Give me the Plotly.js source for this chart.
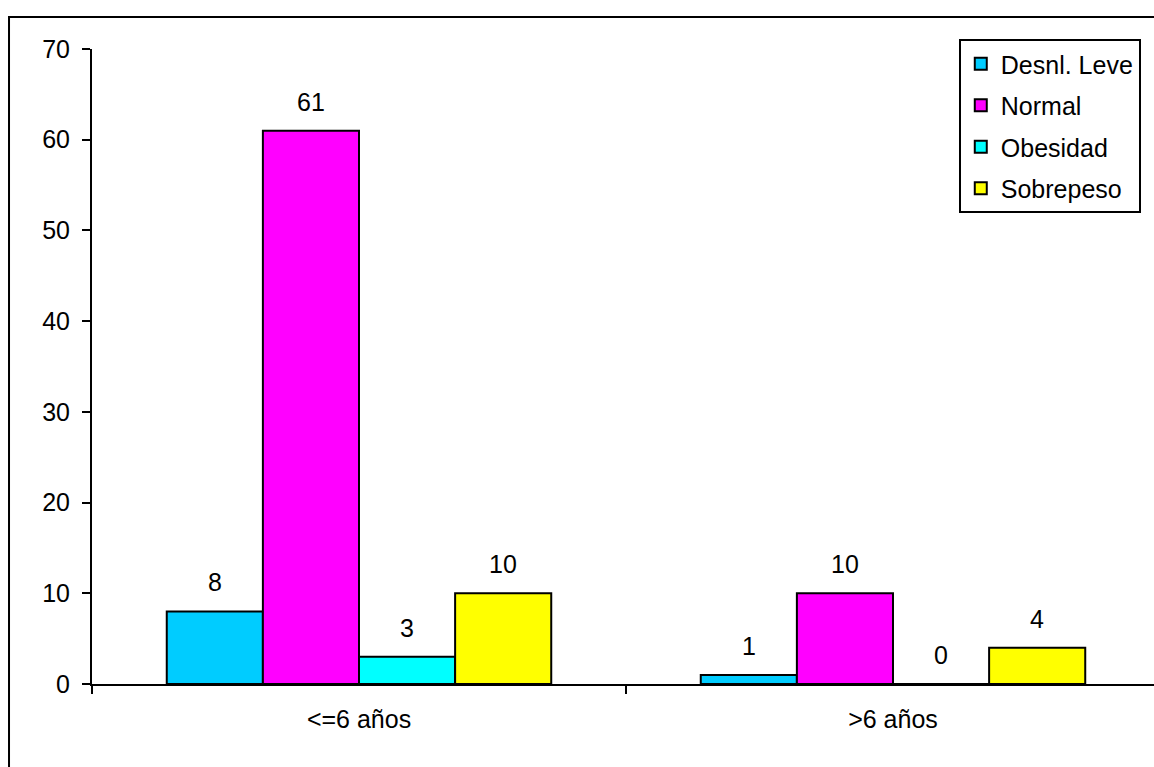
<!DOCTYPE html>
<html>
<head>
<meta charset="utf-8">
<script src="https://cdn.plot.ly/plotly-3.0.1.min.js"></script>
<style>
html,body{margin:0;padding:0;overflow:hidden;background:#fff;}
#chart{width:1160px;height:767px;}
</style>
</head>
<body>
<div id="chart"></div>
<script>
const categories = ['<=6 años', '>6 años'];
const seriesNames = ['Desnl. Leve', 'Normal', 'Obesidad', 'Sobrepeso'];
const desnlLeve = [8, 1];
const normal = [61, 10];
const obesidad = [3, 0];
const sobrepeso = [10, 4];
const yTicks = [0, 10, 20, 30, 40, 50, 60, 70];

const seriesValues = [desnlLeve, normal, obesidad, sobrepeso];
const colors = ['#00CCFF', '#FF00FF', '#00FFFF', '#FFFF00'];
const FONT = 'Liberation Sans, Arial, sans-serif';
const FS = 25;
const bargap = 0.28;

const traces = seriesValues.map((vals, i) => ({
  type: 'bar',
  name: seriesNames[i],
  x: categories,
  y: vals,
  legendgroup: 'g' + i,
  marker: {color: colors[i], line: {color: '#000', width: 2}},
  hoverinfo: 'x+y+name'
}));

const barW = (1 - bargap) / seriesValues.length;
const annotations = [];
seriesValues.forEach((vals, si) => {
  vals.forEach((v, ci) => {
    annotations.push({
      xref: 'x', yref: 'y',
      x: ci + (si - (seriesValues.length - 1) / 2) * barW,
      y: v,
      text: String(v),
      showarrow: false,
      yanchor: 'bottom',
      yshift: 13,
      font: {family: FONT, size: FS, color: '#000'}
    });
  });
});

const layout = {
  width: 1160, height: 767,
  margin: {l: 92, r: 0, t: 49, b: 83},
  paper_bgcolor: '#fff', plot_bgcolor: '#fff',
  barmode: 'group',
  bargap: bargap,
  bargroupgap: 0,
  showlegend: true,
  font: {family: FONT, size: FS, color: '#000'},
  legend: {
    x: 0.982, y: 1.0157, xanchor: 'right', yanchor: 'top',
    bgcolor: '#fff', bordercolor: '#000', borderwidth: 2,
    tracegroupgap: 6,
    font: {family: FONT, size: FS, color: '#000'}
  },
  xaxis: {
    type: 'category',
    showline: true, linecolor: '#000', linewidth: 2,
    ticks: 'outside', tickson: 'boundaries', ticklen: 8, tickwidth: 2, tickcolor: '#000',
    ticklabelstandoff: 12,
    showgrid: false, zeroline: false,
    tickfont: {family: FONT, size: FS, color: '#000'}
  },
  yaxis: {
    range: [0, 70],
    tickvals: yTicks,
    showline: true, linecolor: '#000', linewidth: 2,
    ticks: 'outside', ticklen: 8, tickwidth: 2, tickcolor: '#000',
    ticklabelstandoff: 7,
    showgrid: false, zeroline: false,
    tickfont: {family: FONT, size: FS, color: '#000'}
  },
  annotations: annotations,
  shapes: [{
    type: 'rect', xref: 'paper', yref: 'paper',
    x0: -0.0777, x1: 1.2, y0: -0.3, y1: 1.0504,
    line: {color: '#000', width: 2}, fillcolor: 'rgba(0,0,0,0)', layer: 'below'
  }]
};

Plotly.newPlot('chart', traces, layout, {displayModeBar: false, staticPlot: true});
</script>
</body>
</html>
